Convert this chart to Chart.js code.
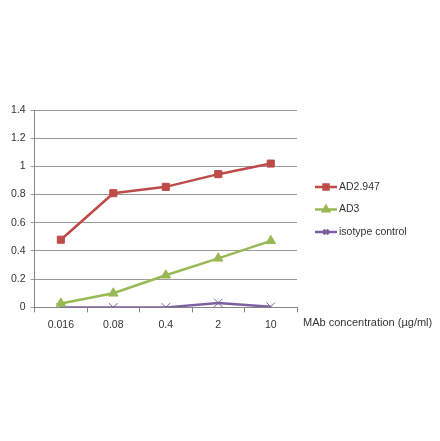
<!DOCTYPE html>
<html>
<head>
<meta charset="utf-8">
<script src="https://cdn.jsdelivr.net/npm/chart.js@4.4.1/dist/chart.umd.min.js"></script>
<style>
  html, body { margin: 0; padding: 0; background: #fff; }
  #wrap { width: 440px; height: 441px; }
</style>
</head>
<body>
<div id="wrap"><canvas id="elisaChart" width="440" height="441"></canvas></div>
<script>
// concentration categories and readings
var concentrations = ['0.016', '0.08', '0.4', '2', '10'];
var ad2947 = [0.48, 0.81, 0.855, 0.945, 1.02];
var ad3 = [0.028, 0.1, 0.228, 0.348, 0.472];
var isotype = [0, 0, 0, 0.032, 0.005];
var yTicks = [0, 0.2, 0.4, 0.6, 0.8, 1, 1.2, 1.4];
var xTitle = 'MAb concentration (\u00b5g/ml)';

var fontFam = '"Liberation Sans", Arial, sans-serif';

// legend + x title drawn at the right like the Excel original
var sideText = {
    id: 'sideText',
    afterDraw: function (chart) {
        var c = chart.ctx;
        var area = chart.chartArea;
        c.save();
        c.font = '11px ' + fontFam;
        c.fillStyle = '#333';
        c.textBaseline = 'middle';
        c.textAlign = 'left';
        c.fillText(xTitle, area.right + 6, 323);

        c.font = '10.5px ' + fontFam;
        var lx = area.right + 18;
        var ly = 187;
        chart.data.datasets.forEach(function (ds, i) {
            var y = ly + i * 22.5;
            c.strokeStyle = ds.borderColor;
            c.lineWidth = 2.5;
            c.beginPath();
            c.moveTo(lx, y);
            c.lineTo(lx + 22, y);
            c.stroke();
            c.fillStyle = ds.borderColor;
            c.strokeStyle = ds.borderColor;
            Chart.helpers.drawPoint(c, {
                pointStyle: ds.pointStyle,
                radius: 3.5,
                borderWidth: 1
            }, lx + 11, y);
            c.fillStyle = '#333';
            c.fillText(ds.label, lx + 24, y);
        });
        c.restore();
    }
};

var ctx = document.getElementById('elisaChart').getContext('2d');
var elisaChart = new Chart(ctx, {
    type: 'line',
    data: {
        labels: concentrations,
        datasets: [{
            label: 'AD2.947',
            data: ad2947,
            borderColor: '#BE4B48',
            backgroundColor: '#BE4B48',
            borderWidth: 2.5,
            pointStyle: 'rect',
            pointRadius: 5,
            pointBorderWidth: 1
        }, {
            label: 'AD3',
            data: ad3,
            borderColor: '#98B954',
            backgroundColor: '#98B954',
            borderWidth: 2.5,
            pointStyle: 'triangle',
            pointRadius: 5.5,
            pointBorderWidth: 1
        }, {
            label: 'isotype control',
            data: isotype,
            borderColor: '#7D60A0',
            backgroundColor: '#7D60A0',
            borderWidth: 2.5,
            pointStyle: 'crossRot',
            pointRadius: 6,
            pointBorderWidth: 1
        }]
    },
    options: {
        responsive: false,
        animation: false,
        layout: {
            padding: { top: 110, right: 143, bottom: 104, left: 6 }
        },
        plugins: {
            legend: { display: false },
            tooltip: { enabled: false }
        },
        scales: {
            x: {
                offset: true,
                grid: {
                    offset: true,
                    drawOnChartArea: false,
                    tickLength: 5,
                    color: '#868686'
                },
                border: { color: '#868686', width: 1 },
                ticks: {
                    font: { family: fontFam, size: 10.5 },
                    color: '#333',
                    padding: 6
                }
            },
            y: {
                min: 0,
                max: 1.4,
                afterBuildTicks: function (scale) {
                    scale.ticks = yTicks.map(function (v) { return { value: v }; });
                },
                grid: {
                    color: '#9a9a9a',
                    tickLength: 4
                },
                border: { color: '#868686', width: 1 },
                ticks: {
                    font: { family: fontFam, size: 10.5 },
                    color: '#333',
                    padding: 5,
                    callback: function (v) { return String(parseFloat(v.toFixed(1))); }
                }
            }
        }
    },
    plugins: [sideText]
});
</script>
</body>
</html>
